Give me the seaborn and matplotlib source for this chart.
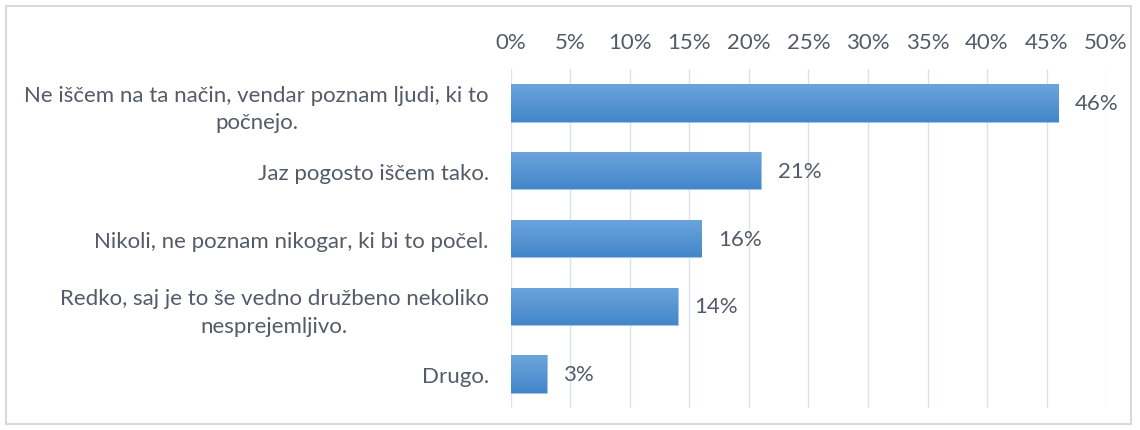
import numpy as np
import pandas as pd
import matplotlib
matplotlib.use("Agg")
import matplotlib.pyplot as plt
import seaborn as sns
from matplotlib.patches import Rectangle
from matplotlib.colors import LinearSegmentedColormap

# Chart data
categories = [
    "Ne iščem na ta način, vendar poznam ljudi, ki to\npočnejo.",
    "Jaz pogosto iščem tako.",
    "Nikoli, ne poznam nikogar, ki bi to počel.",
    "Redko, saj je to še vedno družbeno nekoliko\nnesprejemljivo.",
    "Drugo.",
]
values = [46, 21, 16, 14, 3]
x_ticks = [0, 5, 10, 15, 20, 25, 30, 35, 40, 45, 50]

df = pd.DataFrame({"answer": categories, "pct": values})

sns.set_style("white")
plt.rcParams["font.family"] = ["Lato", "DejaVu Sans"]
text_color = "#545B68"
fsize = 16

fig = plt.figure(figsize=(11.4, 4.31), dpi=100)
ax = fig.add_axes([0.4482, 0.051, 0.5220, 0.7866])

sns.barplot(data=df, x="pct", y="answer", color="#5B9BD5", width=0.55,
            saturation=1, ax=ax)

# gradient fill on bars (lighter top, darker bottom)
grad = LinearSegmentedColormap.from_list("g", ["#4387C9", "#6CA4DD"])
for p in ax.patches:
    x0, y0 = p.get_x(), p.get_y()
    w, h = p.get_width(), p.get_height()
    im = ax.imshow(np.linspace(0, 1, 50).reshape(-1, 1), cmap=grad,
                   extent=[x0, x0 + w, y0 + h, y0], aspect="auto",
                   origin="lower", zorder=2)
    im.set_clip_path(p)
    p.set_facecolor("none")
    p.set_edgecolor("#8DB8E6")
    p.set_linewidth(0.6)

ax.set_xlim(0, 50)
ax.set_ylim(4.5, -0.5)
ax.set_xticks(x_ticks)
ax.set_xticklabels([f"{t}%" for t in x_ticks])
ax.xaxis.tick_top()
ax.grid(axis="x", color="#DDE2EA", linewidth=1)
ax.set_axisbelow(True)
for s in ax.spines.values():
    s.set_visible(False)
ax.set_xlabel("")
ax.set_ylabel("")
ax.tick_params(axis="x", length=0, pad=12, labelsize=fsize, labelcolor=text_color)
ax.tick_params(axis="y", length=0, pad=16, labelsize=fsize, labelcolor=text_color)
for lbl in ax.get_yticklabels():
    lbl.set_multialignment("center")
    lbl.set_linespacing(1.45)

for i, v in enumerate(values):
    ax.annotate(f"{v}%", (v, i), xytext=(12, 0), textcoords="offset points",
                va="center", ha="left", fontsize=fsize, color=text_color)

# outer chart border
fig.patches.append(Rectangle((6 / 1140, 6 / 431), 1125 / 1140, 418 / 431,
                             transform=fig.transFigure, fill=False,
                             edgecolor="#D9D9D9", linewidth=1.5))

fig.savefig("out.png", dpi=100)
